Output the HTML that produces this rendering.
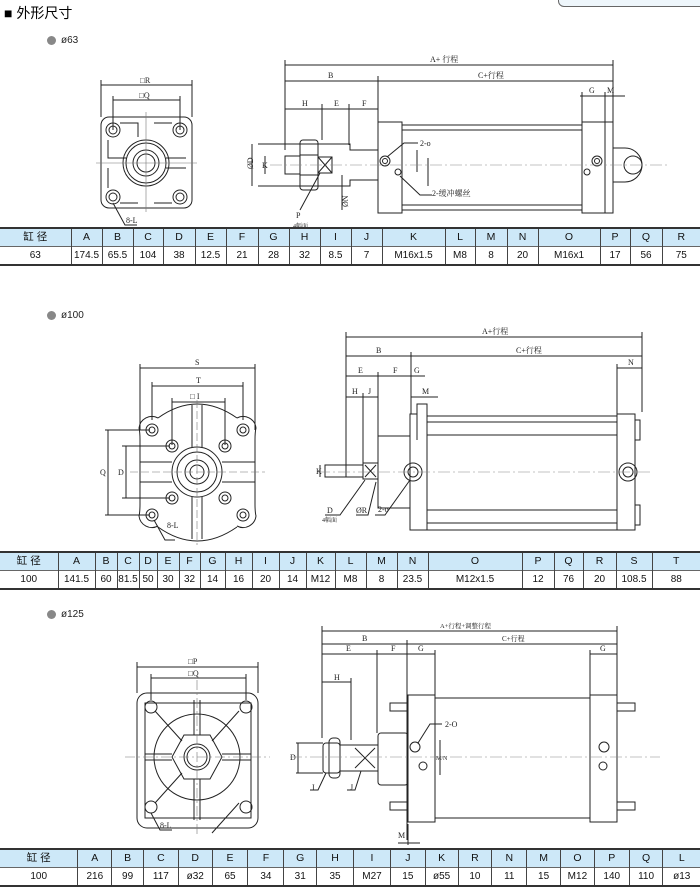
<!DOCTYPE html>
<html><head><meta charset="utf-8"><style>
body{margin:0;width:700px;height:892px;position:relative;background:#fff;font-family:"Liberation Sans","Noto Sans CJK SC",sans-serif;overflow:hidden}
.t{position:absolute;left:0;width:700px;border-collapse:collapse;table-layout:fixed;font-size:10px;text-align:center;color:#111}
.t td{border-left:1px solid #444;padding:0;height:17px;line-height:17px;white-space:nowrap;overflow:hidden}
.t td:first-child{border-left:none}
.t tr.h td{background:#cde8f8;border-top:2px solid #333;font-size:10.5px}
.t tr.b td{border-top:1px solid #666;border-bottom:2px solid #333}
.lbl{position:absolute;font-size:10px;color:#222}
.dot{position:absolute;width:9px;height:9px;border-radius:50%;background:#888}
svg{position:absolute;left:0;top:0}
svg text{font-family:"Liberation Serif","Noto Serif CJK SC",serif;font-size:8px;fill:#222}
</style></head><body>
<div style="position:absolute;left:558px;top:-8px;width:150px;height:13px;border:1px solid #666;border-radius:6px;background:#eef6fb"></div>
<div style="position:absolute;left:4px;top:3px;font-size:14px;font-family:'Liberation Sans','Noto Sans CJK SC',sans-serif">■ 外形尺寸</div>
<div class="dot" style="left:47px;top:36px"></div><div class="lbl" style="left:61px;top:35px">ø63</div>
<div class="dot" style="left:47px;top:311px"></div><div class="lbl" style="left:61px;top:310px">ø100</div>
<div class="dot" style="left:47px;top:610px"></div><div class="lbl" style="left:61px;top:609px">ø125</div>

<svg width="700" height="892" viewBox="0 0 700 892" fill="none" stroke="#222" stroke-width="1">
<!-- ===== Diagram 1 front ===== -->
<g>
<rect x="101" y="117" width="91" height="91" rx="8"/>
<line x1="101" y1="80" x2="101" y2="117"/><line x1="192" y1="80" x2="192" y2="117"/>
<line x1="101" y1="85" x2="192" y2="85"/><text x="140" y="83" stroke="none">□R</text>
<line x1="113" y1="96" x2="113" y2="130"/><line x1="180" y1="96" x2="180" y2="130"/>
<line x1="113" y1="100" x2="180" y2="100"/><text x="139" y="98" stroke="none">□Q</text>
<circle cx="113" cy="130" r="7"/><circle cx="113" cy="130" r="4"/>
<circle cx="180" cy="130" r="7"/><circle cx="180" cy="130" r="4"/>
<circle cx="113" cy="197" r="7"/><circle cx="113" cy="197" r="4"/>
<circle cx="180" cy="197" r="7"/><circle cx="180" cy="197" r="4"/>
<circle cx="146" cy="163" r="23"/><circle cx="146" cy="163" r="20"/><circle cx="146" cy="163" r="13"/><circle cx="146" cy="163" r="9"/>
<path d="M120 123h18v14M154 123h18M108 140v18h18M108 168v20M166 158h20M166 168h20M154 203h18M120 203h18"/>
<line x1="146" y1="112" x2="146" y2="212" stroke="#777" stroke-width="0.6"/>
<line x1="96" y1="163" x2="197" y2="163" stroke="#777" stroke-width="0.6"/>
<path d="M113 203L125 225h12"/><text x="126" y="223" stroke="none">8-L</text>
</g>
<!-- ===== Diagram 1 side ===== -->
<g>
<line x1="285" y1="60" x2="285" y2="150"/><line x1="613" y1="60" x2="613" y2="122"/>
<line x1="285" y1="65" x2="613" y2="65"/><text x="430" y="62" stroke="none">A+ 行程</text>
<line x1="285" y1="81" x2="613" y2="81"/><line x1="378" y1="76" x2="378" y2="122"/>
<text x="328" y="78" stroke="none">B</text><text x="478" y="78" stroke="none">C+行程</text>
<line x1="285" y1="109" x2="378" y2="109"/><line x1="322" y1="104" x2="322" y2="140"/><line x1="349" y1="104" x2="349" y2="145"/>
<text x="302" y="106" stroke="none">H</text><text x="334" y="106" stroke="none">E</text><text x="362" y="106" stroke="none">F</text>
<line x1="582" y1="92" x2="582" y2="122"/><line x1="605" y1="92" x2="605" y2="122"/>
<line x1="580" y1="96" x2="625" y2="96"/><text x="589" y="93" stroke="none">G</text><text x="607" y="93" stroke="none">M</text>
<rect x="378" y="122" width="24" height="91"/>
<rect x="402" y="125" width="180" height="5"/><rect x="402" y="205" width="180" height="5"/>
<rect x="582" y="122" width="31" height="91"/><line x1="605" y1="122" x2="605" y2="213"/>
<path d="M613 148h12a15 15 0 0 1 0 34h-12"/><circle cx="633" cy="165" r="9"/>
<path d="M258 144h92v6h28M258 186h92v-6h28"/>
<line x1="252" y1="144" x2="252" y2="186"/><text x="246" y="170" stroke="none" transform="rotate(-90 249 166)">ØD</text>
<rect x="285" y="156" width="15" height="18"/>
<rect x="300" y="140" width="18" height="50" rx="3"/><line x1="300" y1="155" x2="318" y2="155"/><line x1="300" y1="175" x2="318" y2="175"/>
<rect x="318" y="157" width="14" height="16"/><path d="M318 157l14 16M332 157l-14 16"/>
<line x1="265" y1="156" x2="265" y2="174"/><text x="262" y="168" stroke="none">K</text>
<path d="M320 173L300 210"/><text x="296" y="218" stroke="none">P</text><text x="293" y="228" stroke="none" style="font-size:6px">4幅面</text>
<line x1="342" y1="175" x2="342" y2="210"/><text x="338" y="207" stroke="none" transform="rotate(-90 343 202)">ØN</text>
<circle cx="385" cy="161" r="5"/><circle cx="385" cy="161" r="2.5"/>
<circle cx="398" cy="172" r="3"/><circle cx="587" cy="172" r="3"/>
<circle cx="597" cy="161" r="5"/><circle cx="597" cy="161" r="2.5"/>
<path d="M387 157L404 143h14"/><text x="420" y="146" stroke="none">2-o</text>
<path d="M400 176L420 195h12"/><text x="432" y="196" stroke="none">2-缓冲螺丝</text>
<line x1="417" y1="150" x2="417" y2="172"/><line x1="428" y1="158" x2="428" y2="186"/>
<line x1="270" y1="165" x2="670" y2="165" stroke="#888" stroke-width="0.6" stroke-dasharray="12 3 2 3"/>
</g>
<!-- ===== Diagram 2 front ===== -->
<g>
<path d="M140 440v64M255 440v64M158 418Q197 390 237 418M158 527Q197 555 237 527"/>
<path d="M140 440q0-8 -1-12a13 13 0 0 1 19-10M255 440q0-8 1-12a13 13 0 0 0 -19-10M140 504q0 8 -1 12a13 13 0 0 0 19 10M255 504q0 8 1 12a13 13 0 0 1 -19 10"/>
<line x1="140" y1="364" x2="140" y2="430"/><line x1="255" y1="364" x2="255" y2="430"/>
<line x1="140" y1="368" x2="255" y2="368"/><text x="195" y="365" stroke="none">S</text>
<line x1="152" y1="382" x2="152" y2="420"/><line x1="243" y1="382" x2="243" y2="420"/>
<line x1="152" y1="386" x2="243" y2="386"/><text x="196" y="383" stroke="none">T</text>
<line x1="172" y1="398" x2="172" y2="445"/><line x1="225" y1="398" x2="225" y2="445"/>
<line x1="172" y1="402" x2="225" y2="402"/><text x="190" y="399" stroke="none">□ I</text>
<circle cx="152" cy="430" r="6"/><circle cx="152" cy="430" r="3"/><circle cx="243" cy="430" r="6"/><circle cx="243" cy="430" r="3"/>
<circle cx="152" cy="515" r="6"/><circle cx="152" cy="515" r="3"/><circle cx="243" cy="515" r="6"/><circle cx="243" cy="515" r="3"/>
<circle cx="172" cy="446" r="6"/><circle cx="172" cy="446" r="3"/><circle cx="225" cy="446" r="6"/><circle cx="225" cy="446" r="3"/>
<circle cx="172" cy="498" r="6"/><circle cx="172" cy="498" r="3"/><circle cx="225" cy="498" r="6"/><circle cx="225" cy="498" r="3"/>
<circle cx="197" cy="472" r="25"/><circle cx="197" cy="472" r="20"/><circle cx="197" cy="472" r="12"/><circle cx="197" cy="472" r="7"/>
<path d="M140 462h32M140 482h32M222 462h33M222 482h33M192 405v42M202 405v42M192 497v42M202 497v42"/>
<line x1="197" y1="400" x2="197" y2="545" stroke="#777" stroke-width="0.6" stroke-dasharray="8 3"/>
<line x1="130" y1="472" x2="265" y2="472" stroke="#777" stroke-width="0.6" stroke-dasharray="8 3"/>
<line x1="105" y1="430" x2="150" y2="430"/><line x1="105" y1="515" x2="150" y2="515"/><line x1="108" y1="430" x2="108" y2="515"/>
<text x="100" y="475" stroke="none">Q</text>
<line x1="122" y1="446" x2="170" y2="446"/><line x1="122" y1="498" x2="170" y2="498"/><line x1="126" y1="446" x2="126" y2="498"/>
<text x="118" y="475" stroke="none">D</text>
<path d="M154 520L165 540h10"/><text x="167" y="528" stroke="none">8-L</text>
</g>
<!-- ===== Diagram 2 side ===== -->
<g>
<line x1="346" y1="332" x2="346" y2="465"/><line x1="642" y1="332" x2="642" y2="412"/>
<line x1="346" y1="337" x2="642" y2="337"/><text x="482" y="334" stroke="none">A+行程</text>
<line x1="346" y1="356" x2="642" y2="356"/><line x1="411" y1="352" x2="411" y2="414"/>
<text x="376" y="353" stroke="none">B</text><text x="516" y="353" stroke="none">C+行程</text>
<line x1="346" y1="376" x2="425" y2="376"/><line x1="378" y1="372" x2="378" y2="436"/>
<text x="358" y="373" stroke="none">E</text><text x="393" y="373" stroke="none">F</text><text x="414" y="373" stroke="none">G</text>
<line x1="346" y1="397" x2="378" y2="397"/><line x1="363" y1="393" x2="363" y2="465"/>
<text x="352" y="394" stroke="none">H</text><text x="368" y="394" stroke="none">J</text>
<line x1="411" y1="397" x2="438" y2="397"/><text x="422" y="394" stroke="none">M</text>
<line x1="617" y1="364" x2="617" y2="414"/><line x1="617" y1="368" x2="642" y2="368"/><text x="628" y="365" stroke="none">N</text>
<rect x="325" y="465" width="38" height="12"/><rect x="346" y="465" width="17" height="12"/>
<rect x="363" y="463" width="15" height="16"/><path d="M365 465l11 12M376 465l-11 12"/>
<line x1="320" y1="465" x2="320" y2="477"/><text x="316" y="474" stroke="none">K</text>
<rect x="378" y="436" width="32" height="72"/>
<path d="M410 414h7v-10h10v10v116h-17z"/><line x1="417" y1="404" x2="417" y2="440"/>
<rect x="427" y="416" width="190" height="114"/><line x1="427" y1="422" x2="617" y2="422"/><line x1="427" y1="435" x2="617" y2="435"/>
<line x1="427" y1="510" x2="617" y2="510"/><line x1="427" y1="523" x2="617" y2="523"/>
<rect x="617" y="414" width="18" height="116"/><rect x="635" y="420" width="5" height="20"/><rect x="635" y="505" width="5" height="20"/>
<circle cx="413" cy="472" r="9"/><circle cx="413" cy="472" r="5"/>
<circle cx="628" cy="472" r="9"/><circle cx="628" cy="472" r="5"/>
<line x1="318" y1="472" x2="650" y2="472" stroke="#888" stroke-width="0.6" stroke-dasharray="12 3 2 3"/>
<path d="M365 480L340 515h-15"/><text x="327" y="513" stroke="none">D</text><text x="322" y="522" stroke="none" style="font-size:6px">4幅面</text>
<path d="M376 482L368 515h-12"/><text x="356" y="513" stroke="none">ØR</text>
<path d="M410 480L385 515h-10"/><text x="378" y="512" stroke="none">2-o</text>
</g>
<!-- ===== Diagram 3 front ===== -->
<g>
<rect x="137" y="693" width="121" height="135" rx="10"/>
<path d="M145 703h106v115h-106z"/>
<line x1="137" y1="662" x2="137" y2="693"/><line x1="258" y1="662" x2="258" y2="693"/>
<line x1="137" y1="667" x2="258" y2="667"/><text x="188" y="664" stroke="none">□P</text>
<line x1="151" y1="674" x2="151" y2="700"/><line x1="246" y1="674" x2="246" y2="700"/>
<line x1="151" y1="678" x2="246" y2="678"/><text x="188" y="676" stroke="none">□Q</text>
<circle cx="151" cy="707" r="6"/><circle cx="246" cy="707" r="6"/><circle cx="151" cy="807" r="6"/><circle cx="246" cy="807" r="6"/>
<circle cx="197" cy="757" r="43"/>
<path d="M172 757l12-22h26l12 22-12 22h-26z"/><circle cx="197" cy="757" r="13"/><circle cx="197" cy="757" r="10"/>
<path d="M155 711l27 30M239 711l-27 30M155 803l27-30M239 803l-27 30"/>
<path d="M194 700v35M200 700v35M194 779v41M200 779v41M145 754h27M145 760h27M222 754h29M222 760h29"/>
<line x1="125" y1="757" x2="270" y2="757" stroke="#777" stroke-width="0.6" stroke-dasharray="10 3 2 3"/>
<line x1="197" y1="680" x2="197" y2="835" stroke="#777" stroke-width="0.6" stroke-dasharray="10 3 2 3"/>
<path d="M151 813L160 830h12"/><text x="160" y="828" stroke="none">8-L</text>
</g>
<!-- ===== Diagram 3 side ===== -->
<g>
<line x1="322" y1="626" x2="322" y2="738"/><line x1="617" y1="626" x2="617" y2="695"/>
<line x1="322" y1="631" x2="617" y2="631"/><text x="440" y="628" stroke="none" style="font-size:6.5px">A+行程+调整行程</text>
<line x1="322" y1="644" x2="617" y2="644"/><line x1="407" y1="640" x2="407" y2="840"/>
<text x="362" y="641" stroke="none">B</text><text x="502" y="641" stroke="none" style="font-size:7px">C+行程</text>
<line x1="322" y1="654" x2="435" y2="654"/><line x1="377" y1="650" x2="377" y2="733"/><line x1="435" y1="650" x2="435" y2="695"/>
<text x="346" y="651" stroke="none">E</text><text x="391" y="651" stroke="none">F</text><text x="418" y="651" stroke="none">G</text>
<line x1="590" y1="650" x2="590" y2="695"/><line x1="590" y1="654" x2="617" y2="654"/><text x="600" y="651" stroke="none">G</text>
<line x1="322" y1="682" x2="351" y2="682"/><line x1="351" y1="678" x2="351" y2="740"/><text x="334" y="680" stroke="none">H</text>
<path d="M296 743h27M296 773h27"/><line x1="298" y1="743" x2="298" y2="773"/><text x="290" y="760" stroke="none">D</text>
<rect x="323" y="743" width="17" height="30" rx="3"/><rect x="329" y="738" width="11" height="40" rx="4"/>
<rect x="340" y="745" width="38" height="26"/><path d="M355 748l20 20M375 748l-20 20"/>
<rect x="378" y="733" width="30" height="52" rx="3"/>
<rect x="408" y="695" width="27" height="127"/>
<rect x="435" y="698" width="155" height="120"/>
<rect x="590" y="695" width="27" height="127"/>
<path d="M390 703h18v8h-18zM617 703h18v8h-18zM390 802h18v8h-18zM617 802h18v8h-18z"/>
<circle cx="415" cy="747" r="5"/><circle cx="423" cy="766" r="4"/><circle cx="604" cy="747" r="5"/><circle cx="603" cy="766" r="4"/>
<path d="M418 743L430 724h12"/><text x="445" y="727" stroke="none">2-O</text>
<line x1="440" y1="740" x2="440" y2="775"/><text x="436" y="760" stroke="none" style="font-size:6px">M/N</text>
<line x1="290" y1="757" x2="660" y2="757" stroke="#888" stroke-width="0.6" stroke-dasharray="12 3 2 3"/>
<path d="M326 773L318 790h-8"/><text x="312" y="790" stroke="none">I</text>
<path d="M361 771L355 790h-8"/><text x="350" y="790" stroke="none">J</text>
<line x1="408" y1="824" x2="408" y2="845"/><line x1="398" y1="843" x2="420" y2="843"/><text x="398" y="838" stroke="none">M</text>
</g>
</svg>

<table class="t" style="top:227px">
<colgroup><col style="width:71px"><col style="width:31px"><col style="width:31px"><col style="width:30px"><col style="width:32px"><col style="width:31px"><col style="width:32px"><col style="width:31px"><col style="width:31px"><col style="width:31px"><col style="width:31px"><col style="width:63px"><col style="width:30px"><col style="width:32px"><col style="width:31px"><col style="width:62px"><col style="width:30px"><col style="width:32px"><col style="width:38px"></colgroup>
<tr class="h"><td>缸 径</td><td>A</td><td>B</td><td>C</td><td>D</td><td>E</td><td>F</td><td>G</td><td>H</td><td>I</td><td>J</td><td>K</td><td>L</td><td>M</td><td>N</td><td>O</td><td>P</td><td>Q</td><td>R</td></tr>
<tr class="b"><td>63</td><td>174.5</td><td>65.5</td><td>104</td><td>38</td><td>12.5</td><td>21</td><td>28</td><td>32</td><td>8.5</td><td>7</td><td>M16x1.5</td><td>M8</td><td>8</td><td>20</td><td>M16x1</td><td>17</td><td>56</td><td>75</td></tr>
</table>

<table class="t" style="top:551px">
<colgroup><col style="width:58px"><col style="width:37px"><col style="width:22px"><col style="width:22px"><col style="width:18px"><col style="width:22px"><col style="width:21px"><col style="width:25px"><col style="width:27px"><col style="width:27px"><col style="width:27px"><col style="width:29px"><col style="width:31px"><col style="width:31px"><col style="width:31px"><col style="width:94px"><col style="width:32px"><col style="width:29px"><col style="width:33px"><col style="width:36px"><col style="width:48px"></colgroup>
<tr class="h"><td>缸 径</td><td>A</td><td>B</td><td>C</td><td>D</td><td>E</td><td>F</td><td>G</td><td>H</td><td>I</td><td>J</td><td>K</td><td>L</td><td>M</td><td>N</td><td>O</td><td>P</td><td>Q</td><td>R</td><td>S</td><td>T</td></tr>
<tr class="b"><td>100</td><td>141.5</td><td>60</td><td>81.5</td><td>50</td><td>30</td><td>32</td><td>14</td><td>16</td><td>20</td><td>14</td><td>M12</td><td>M8</td><td>8</td><td>23.5</td><td>M12x1.5</td><td>12</td><td>76</td><td>20</td><td>108.5</td><td>88</td></tr>
</table>

<table class="t" style="top:848px">
<colgroup><col style="width:76px"><col style="width:33px"><col style="width:31px"><col style="width:34px"><col style="width:33px"><col style="width:35px"><col style="width:35px"><col style="width:32px"><col style="width:36px"><col style="width:36px"><col style="width:34px"><col style="width:32px"><col style="width:33px"><col style="width:34px"><col style="width:33px"><col style="width:33px"><col style="width:34px"><col style="width:33px"><col style="width:36px"></colgroup>
<tr class="h"><td>缸 径</td><td>A</td><td>B</td><td>C</td><td>D</td><td>E</td><td>F</td><td>G</td><td>H</td><td>I</td><td>J</td><td>K</td><td>R</td><td>N</td><td>M</td><td>O</td><td>P</td><td>Q</td><td>L</td></tr>
<tr class="b"><td>100</td><td>216</td><td>99</td><td>117</td><td>ø32</td><td>65</td><td>34</td><td>31</td><td>35</td><td>M27</td><td>15</td><td>ø55</td><td>10</td><td>11</td><td>15</td><td>M12</td><td>140</td><td>110</td><td>ø13</td></tr>
</table>
</body></html>
